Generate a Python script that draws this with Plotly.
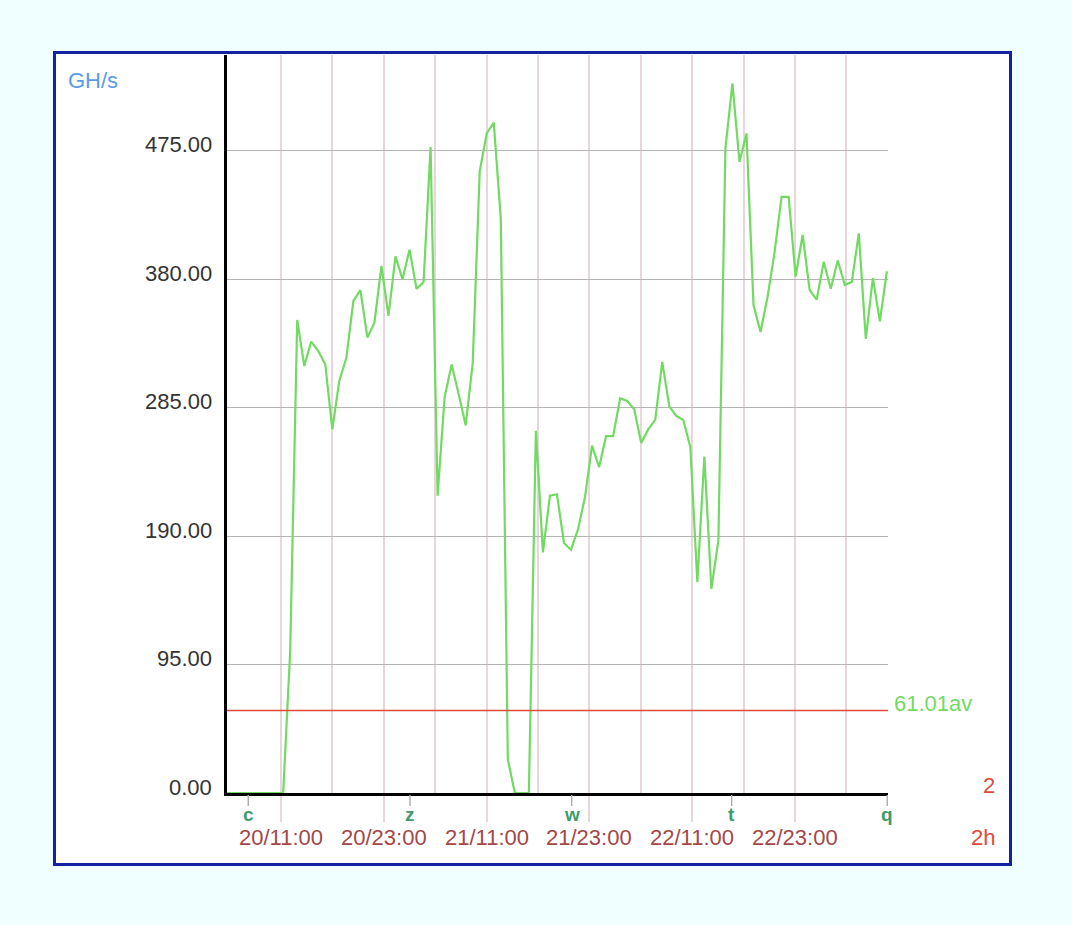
import plotly.graph_objects as go

# ---- data ----
hashrate = [0, 0, 0, 0, 0, 0, 0, 0, 0, 105, 350, 316, 334, 327, 317, 269, 305, 322,
            364, 372, 337, 348, 390, 353, 397, 380, 402, 373, 378, 478, 220, 293, 317,
            295, 272, 318, 460, 488, 496, 425, 25, 0, 0, 0, 268, 178, 220, 221, 185,
            180, 195, 219, 257, 241, 264, 264, 292, 290, 284, 259, 269, 276, 319, 286,
            279, 276, 256, 156, 249, 151, 187, 477, 525, 467, 488, 361, 341, 367, 400,
            441, 441, 382, 413, 372, 365, 393, 373, 394, 376, 378, 414, 336, 381, 349, 386]
start_hour = 4.70          # hours after 20/00:00
step_hours = 0.8193        # sampling interval (~49 min)
times = [start_hour + i * step_hours for i in range(len(hashrate))]

average = 61.01
y_ticks = [0, 95, 190, 285, 380, 475]
date_tick_hours = [11, 23, 35, 47, 59, 71]
date_tick_labels = ["20/11:00", "20/23:00", "21/11:00", "21/23:00", "22/11:00", "22/23:00"]
minor_grid_hours = [17, 29, 41, 53, 65, 77]
letter_hours = [7.18, 26.06, 44.93, 63.6, 81.76]
letter_labels = ["c", "z", "w", "t", "q"]

x_range = [4.698, 81.845]
y_range = [0, 546]

# ---- layout geometry ----
W, H = 1072, 925
L, R, T, B = 227, 888, 55, 793
PW, PH = R - L, B - T


def px_x(p):
    return (p - L) / PW


def px_y(p):
    return (B - p) / PH


FONT = "Liberation Sans, Arial, sans-serif"
GREEN = "#72da63"
PINK = "#e9d6da"
GRIDGRAY = "#b4b4b4"
DATE_COL = "#a24848"
LETTER_COL = "#3f9a6c"
RED = "#e04a3a"
FS = 22

fig = go.Figure()
fig.add_trace(go.Scatter(x=times, y=hashrate, mode="lines",
                         line=dict(color=GREEN, width=2.2), hoverinfo="skip",
                         showlegend=False))
fig.add_trace(go.Scatter(x=x_range, y=[average, average], mode="lines",
                         line=dict(color=RED, width=1.6), hoverinfo="skip",
                         showlegend=False))

shapes = [dict(type="rect", xref="paper", yref="paper",
               x0=px_x(54.5), x1=px_x(1010.5), y0=px_y(864.5), y1=px_y(52.5),
               fillcolor="white", line=dict(color="#1322a0", width=3), layer="below")]
for h in letter_hours:
    shapes.append(dict(type="line", xref="x", yref="paper", x0=h, x1=h,
                       y0=px_y(795), y1=px_y(806), line=dict(color="#b0b0b0", width=1.5)))

annotations = []
for v in y_ticks:
    annotations.append(dict(x=x_range[0], xref="x", y=v, yref="y", text=f"{v:.2f}",
                            showarrow=False, xanchor="right", yanchor="middle",
                            xshift=-13, yshift=6, font=dict(family=FONT, size=FS, color="#333333")))
for h, t in zip(date_tick_hours, date_tick_labels):
    annotations.append(dict(x=h, xref="x", y=px_y(837), yref="paper", text=t,
                            showarrow=False, xanchor="center", yanchor="middle",
                            font=dict(family=FONT, size=FS, color=DATE_COL)))
for h, t in zip(letter_hours, letter_labels):
    annotations.append(dict(x=h, xref="x", y=px_y(814), yref="paper", text=f"<b>{t}</b>",
                            showarrow=False, xanchor="center", yanchor="middle",
                            font=dict(family=FONT, size=19, color=LETTER_COL)))
annotations += [
    dict(x=px_x(66), xref="paper", y=px_y(80.5), yref="paper", text="GH/s", showarrow=False,
         xanchor="left", yanchor="middle", font=dict(family=FONT, size=FS, color="#5b9be6")),
    dict(x=px_x(892), xref="paper", y=average, yref="y", text=f"{average:.2f}av", showarrow=False,
         xanchor="left", yanchor="middle", yshift=7, font=dict(family=FONT, size=FS, color=GREEN)),
    dict(x=px_x(997), xref="paper", y=px_y(785.5), yref="paper", text="2", showarrow=False,
         xanchor="right", yanchor="middle", font=dict(family=FONT, size=FS, color=RED)),
    dict(x=px_x(997), xref="paper", y=px_y(837), yref="paper", text="2h", showarrow=False,
         xanchor="right", yanchor="middle", font=dict(family=FONT, size=FS, color=RED)),
]

fig.update_layout(
    width=W, height=H,
    margin=dict(l=L, r=W - R, t=T, b=H - B, pad=0),
    paper_bgcolor="#f0ffff",
    plot_bgcolor="rgba(0,0,0,0)",
    shapes=shapes,
    annotations=annotations,
    showlegend=False,
    xaxis=dict(range=x_range, showline=True, linecolor="black", linewidth=3,
               showgrid=True, gridcolor=PINK, gridwidth=1.5,
               tickvals=date_tick_hours, ticktext=date_tick_labels, showticklabels=False,
               ticks="outside", ticklen=26, tickwidth=1.5, tickcolor=PINK,
               minor=dict(tickvals=minor_grid_hours, showgrid=True, gridcolor=PINK,
                          gridwidth=1.5, ticks=""),
               zeroline=False, fixedrange=True),
    yaxis=dict(range=y_range, showline=True, linecolor="black", linewidth=3,
               showgrid=True, gridcolor=GRIDGRAY, gridwidth=1.2,
               tickvals=y_ticks, showticklabels=False, ticks="",
               zeroline=False, fixedrange=True),
)

page_fix = ("document.body.style.margin='0';document.body.style.padding='0';"
            "document.body.style.background='#f0ffff';"
            "document.body.style.overflow='hidden';")
fig.write_html("out.html", post_script=page_fix, config={"displayModeBar": False})
